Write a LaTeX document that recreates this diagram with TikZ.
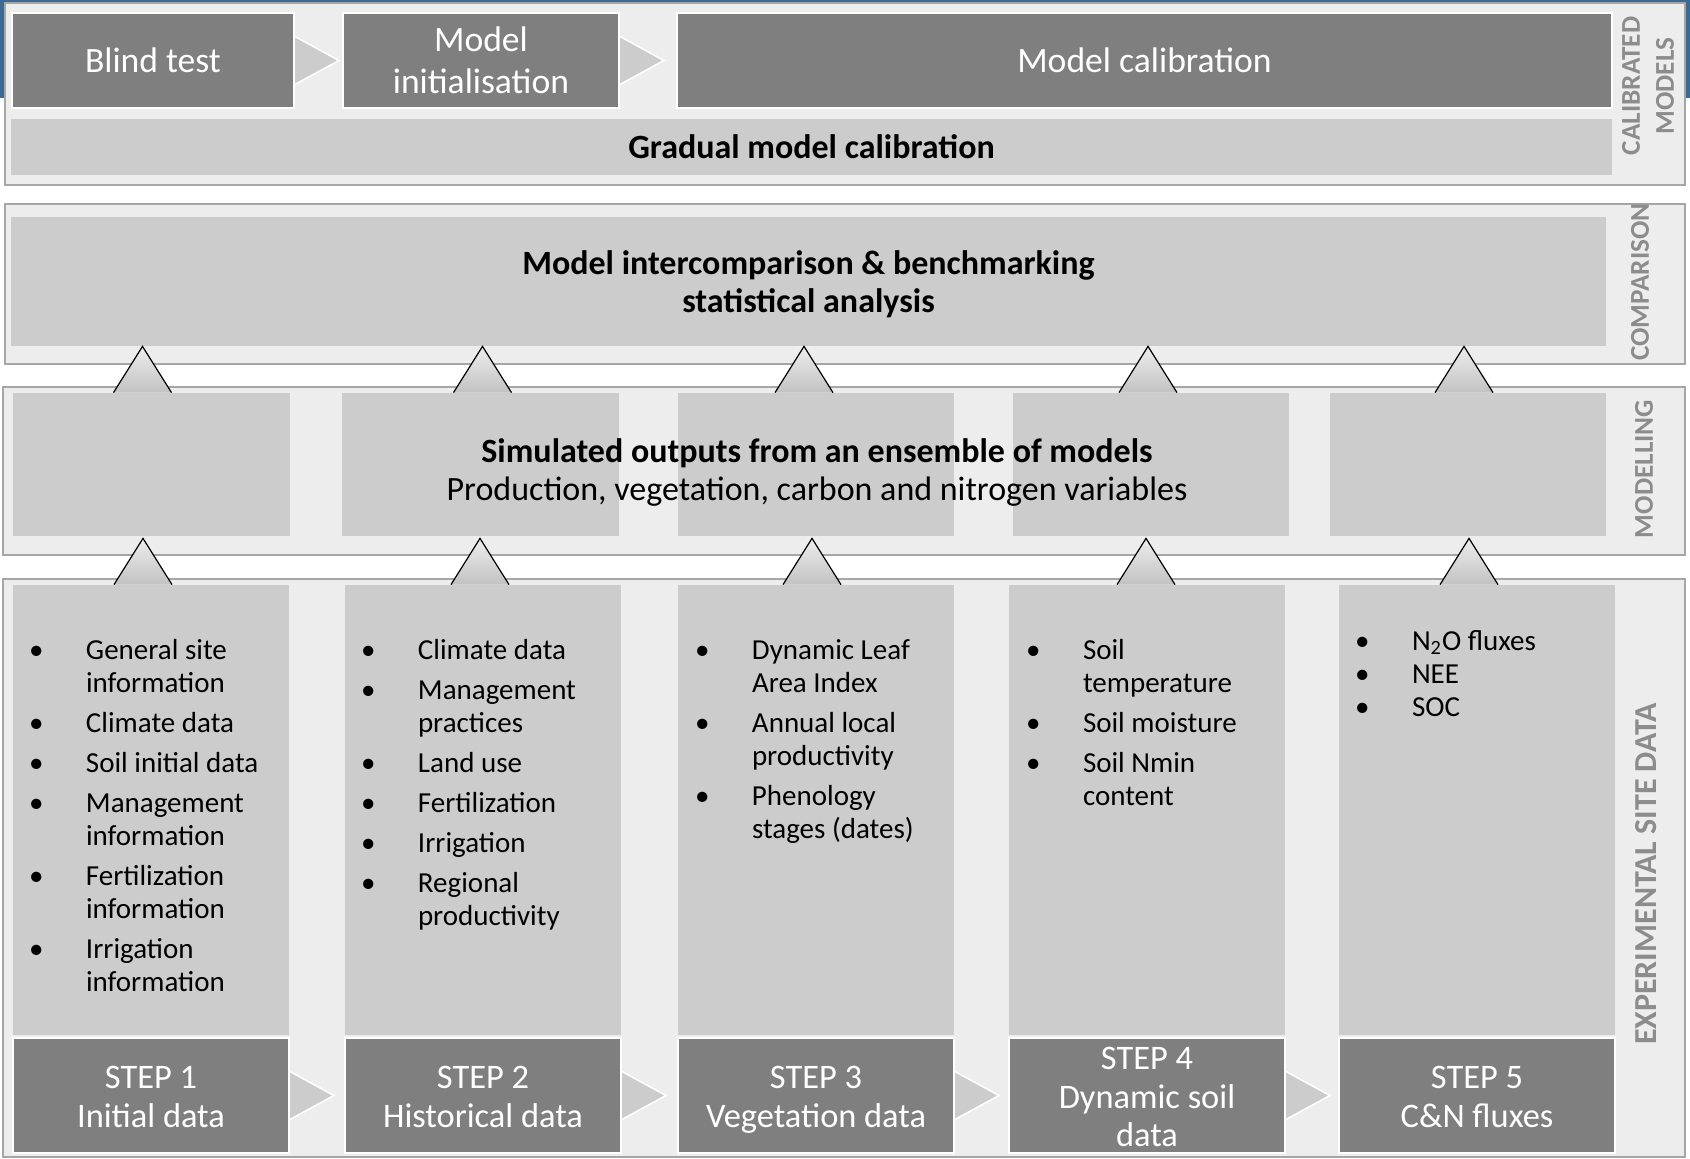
\documentclass[tikz,border=0pt]{standalone}
\usepackage{fontspec}
\setmainfont{Carlito}
\usetikzlibrary{calc,fit}

\definecolor{slideblue}{HTML}{3B6B94}
\definecolor{secfill}{HTML}{EDEDED}
\definecolor{secline}{HTML}{A6A6A6}
\definecolor{boxlight}{HTML}{CCCCCC}
\definecolor{boxdark}{HTML}{7F7F7F}
\definecolor{sidegray}{HTML}{8C8C8C}
\definecolor{tribottom}{HTML}{C2C2C2}

\tikzset{
  section/.style={draw=secline, fill=secfill, line width=1.1pt, inner sep=0pt},
  lightbox/.style={fill=boxlight, inner sep=0pt},
  darkbox/.style={fill=boxdark, draw=white, line width=1pt, inner sep=0pt},
  toptext/.style={text=white, align=center, inner sep=0pt, font=\fontsize{17.8}{21}\selectfont},
  steptext/.style={text=white, align=center, inner sep=0pt, font=\fontsize{17.2}{19.2}\selectfont},
  chev/.style={fill=boxlight, draw=white, line width=0.8pt},
  uptri/.style={top color=secfill, bottom color=tribottom, draw=black, line width=0.6pt},
  sidelabel/.style={rotate=90, text=sidegray, align=center, inner sep=0pt,
    font=\bfseries\fontsize{13.6}{17}\selectfont},
  bigtext/.style={align=center, inner sep=0pt, font=\bfseries\fontsize{17}{19}\selectfont},
  listtext/.style={anchor=base west, inner sep=0pt, font=\fontsize{14.5}{16.5}\selectfont},
}

\begin{document}
\begin{tikzpicture}[x=0.5pt,y=-0.5pt]
  \useasboundingbox (0,0) rectangle (1690,1159);
  \fill[slideblue] (0,0) rectangle (1690,98);

  \node[section, fit={(5,3) (1685,185)}] (calsec) {};
  \node[section, fit={(5,204) (1685,364)}] (cmpsec) {};
  \node[section, fit={(3,387) (1685,555)}] (modsec) {};
  \node[section, fit={(3,579) (1685,1157)}] (expsec) {};

  \node[lightbox, fit={(11,119) (1612,175)}] (grad) {};
  \node[lightbox, fit={(11,217) (1606,346)}] (cmp) {};
  \node[lightbox, fit={(13,393) (290,536)}] (mod1) {};
  \node[lightbox, fit={(342,393) (619,536)}] (mod2) {};
  \node[lightbox, fit={(678,393) (954,536)}] (mod3) {};
  \node[lightbox, fit={(1013,393) (1289,536)}] (mod4) {};
  \node[lightbox, fit={(1330,393) (1606,536)}] (mod5) {};
  \node[lightbox, fit={(13,585) (289,1035)}] (col1) {};
  \node[lightbox, fit={(345,585) (621,1035)}] (col2) {};
  \node[lightbox, fit={(678,585) (954,1035)}] (col3) {};
  \node[lightbox, fit={(1009,585) (1285,1035)}] (col4) {};
  \node[lightbox, fit={(1339,585) (1615,1035)}] (col5) {};

  \node[darkbox, fit={(12,13) (294,108)}] (blind) {};
  \node[darkbox, fit={(343,13) (619,108)}] (init) {};
  \node[darkbox, fit={(677,13) (1612,108)}] (calib) {};
  \node[darkbox, fit={(13,1038) (289,1153)}] (step1) {};
  \node[darkbox, fit={(345,1038) (621,1153)}] (step2) {};
  \node[darkbox, fit={(678,1038) (954,1153)}] (step3) {};
  \node[darkbox, fit={(1009,1038) (1285,1153)}] (step4) {};
  \node[darkbox, fit={(1339,1038) (1615,1153)}] (step5) {};

  \node[toptext] (blindtext) at (blind.center) {Blind test};
  \node[toptext] (inittext) at (init.center) {Model\\initialisation};
  \node[toptext] (calibtext) at (calib.center) {Model calibration};
  \node[steptext] (step1text) at ($(step1.center)+(0,5)$) {\strut STEP 1\\Initial data\strut};
  \node[steptext] (step2text) at ($(step2.center)+(0,5)$) {\strut STEP 2\\Historical data\strut};
  \node[steptext] (step3text) at ($(step3.center)+(0,5)$) {\strut STEP 3\\Vegetation data\strut};
  \node[steptext] (step4text) at ($(step4.center)+(0,5)$) {\strut STEP 4\\Dynamic soil\\data\strut};
  \node[steptext] (step5text) at ($(step5.center)+(0,5)$) {\strut STEP 5\\C\&N fluxes\strut};

  \foreach \b in {blind,init,step1,step2,step3,step4}
    \path[chev] ($(\b.east)+(0,-24)$) -- ($(\b.east)+(44,0)$) -- ($(\b.east)+(0,24)$);

  \foreach \b/\s in {mod1/-9,mod2/2,mod3/-12,mod4/-3,mod5/-4}
    \path[uptri] ($(\b.north)+(\s-29,0)$) -- ($(\b.north |- cmp.south)+(\s,0)$) -- ($(\b.north)+(\s+29,0)$);
  \foreach \i/\s in {1/-8,2/-3,3/-4,4/-1,5/-8}
    \path[uptri] ($(col\i.north)+(\s-29,0)$) -- ($(col\i.north |- mod\i.south)+(\s,2)$) -- ($(col\i.north)+(\s+29,0)$);

  \node[bigtext] (gradtext) at (grad.center) {Gradual model calibration};
  \node[bigtext] (cmptext) at ($(cmp.center)+(0,3)$) {Model intercomparison \& benchmarking\\statistical analysis};
  \node[bigtext] (simtext) at (817,472) {Simulated outputs from an ensemble of models\\
    \mdseries Production, vegetation, carbon and nitrogen variables};

  \node[sidelabel] (callabel) at (1648,86) {CALIBRATED\\MODELS};
  \node[sidelabel] (cmplabel) at (1640,282) {COMPARISON};
  \node[sidelabel] (modlabel) at (1644,469) {MODELLING};
  \node[sidelabel, font=\bfseries\fontsize{16}{17}\selectfont] (explabel) at (1646,874) {EXPERIMENTAL SITE DATA};

  \node[listtext] (list1) at ($(col1.north west)+(16,75)$) {%
    \begin{tabular}[t]{@{}p{28.5pt}@{}l@{}}
    \textbullet & General site\\
                & information\\[3.5pt]
    \textbullet & Climate data\\[3.5pt]
    \textbullet & Soil initial data\\[3.5pt]
    \textbullet & Management\\
                & information\\[3.5pt]
    \textbullet & Fertilization\\
                & information\\[3.5pt]
    \textbullet & Irrigation\\
                & information
    \end{tabular}};
  \node[listtext] (list2) at ($(col2.north west)+(16,75)$) {%
    \begin{tabular}[t]{@{}p{28.5pt}@{}l@{}}
    \textbullet & Climate data\\[3.5pt]
    \textbullet & Management\\
                & practices\\[3.5pt]
    \textbullet & Land use\\[3.5pt]
    \textbullet & Fertilization\\[3.5pt]
    \textbullet & Irrigation\\[3.5pt]
    \textbullet & Regional\\
                & productivity
    \end{tabular}};
  \node[listtext] (list3) at ($(col3.north west)+(17,75)$) {%
    \begin{tabular}[t]{@{}p{28.5pt}@{}l@{}}
    \textbullet & Dynamic Leaf\\
                & Area Index\\[3.5pt]
    \textbullet & Annual local\\
                & productivity\\[3.5pt]
    \textbullet & Phenology\\
                & stages (dates)
    \end{tabular}};
  \node[listtext] (list4) at ($(col4.north west)+(17,75)$) {%
    \begin{tabular}[t]{@{}p{28.5pt}@{}l@{}}
    \textbullet & Soil\\
                & temperature\\[3.5pt]
    \textbullet & Soil moisture\\[3.5pt]
    \textbullet & Soil Nmin\\
                & content
    \end{tabular}};
  \node[listtext] (list5) at ($(col5.north west)+(16,66)$) {%
    \begin{tabular}[t]{@{}p{28.5pt}@{}l@{}}
    \textbullet & N\textsubscript{2}O fluxes\\
    \textbullet & NEE\\
    \textbullet & SOC
    \end{tabular}};
\end{tikzpicture}
\end{document}
